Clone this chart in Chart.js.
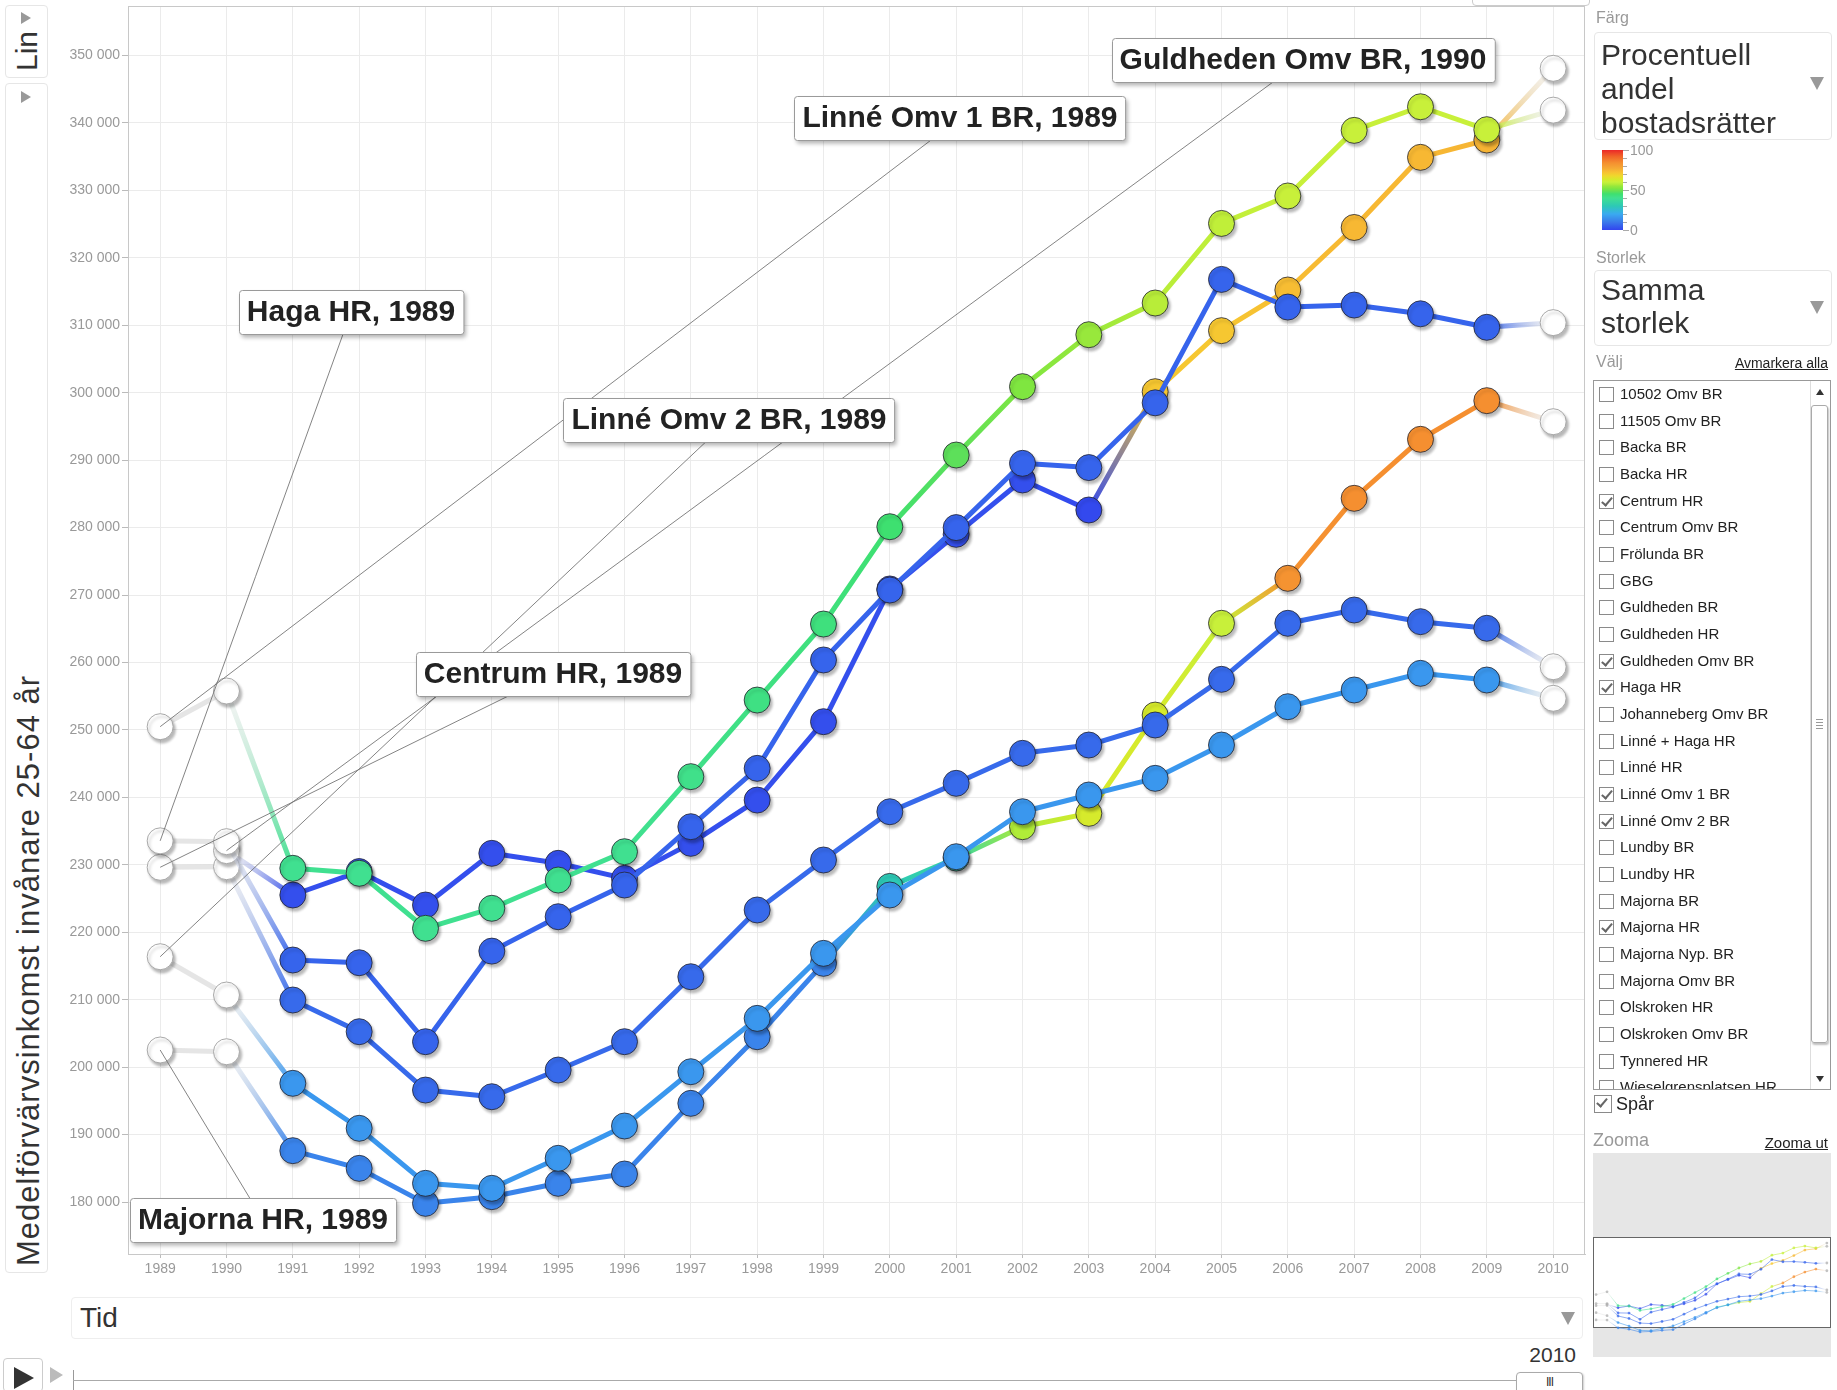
<!DOCTYPE html>
<html><head><meta charset="utf-8">
<script src="https://cdn.jsdelivr.net/npm/chart.js@4.4.1/dist/chart.umd.min.js"></script>
<style>
html,body{margin:0;padding:0;background:#fff;width:1837px;height:1390px;overflow:hidden;font-family:'Liberation Sans',Arial,sans-serif;color:#333;}
.abs{position:absolute;}
.box{position:absolute;border:1px solid #e6e6e6;border-radius:4px;background:#fff;box-sizing:border-box;}
.tri-r{position:absolute;width:0;height:0;border-top:6px solid transparent;border-bottom:6px solid transparent;border-left:10px solid #999;}
.tri-d{position:absolute;width:0;height:0;border-left:7px solid transparent;border-right:7px solid transparent;border-top:13px solid #999;}
.rot{position:absolute;transform-origin:0 0;transform:rotate(-90deg);white-space:nowrap;}
.grey{color:#999;font-size:16px;}
.big{font-size:30px;color:#333;line-height:34px;}
.lnk{font-size:14px;color:#222;text-decoration:underline;}
.cb{position:absolute;width:15px;height:15px;border:1px solid #8a8a8a;box-sizing:border-box;background:#fff;}
.cb.on::after{content:'';position:absolute;left:4px;top:0px;width:4px;height:9px;border-right:2px solid #666;border-bottom:2px solid #666;transform:rotate(40deg);}
.item{position:absolute;left:26px;font-size:15px;color:#222;white-space:nowrap;}
canvas{display:block;}
</style></head><body>

<!-- left controls -->
<div class="box" style="left:5px;top:5px;width:43px;height:73px;"></div>
<div class="tri-r" style="left:21px;top:12px;"></div>
<div class="rot" style="left:12px;top:71px;font-size:30px;line-height:30px;color:#333;">Lin</div>
<div class="box" style="left:5px;top:83px;width:43px;height:1190px;"></div>
<div class="tri-r" style="left:21px;top:91px;"></div>
<div class="rot" id="ytitle" style="left:13px;top:1266px;font-size:31px;line-height:31px;letter-spacing:1px;color:#333;">Medelförvärvsinkomst invånare 25-64 år</div>

<!-- top-right tiny controls -->
<div class="box" style="left:1472px;top:-12px;width:118px;height:18px;border-color:#ccc;"></div>

<!-- main chart -->
<div class="abs" id="mainwrap" style="left:0;top:0;"><canvas id="main" width="1590" height="1290"></canvas></div>

<!-- bottom controls -->
<div class="box" style="left:71px;top:1297px;width:1512px;height:42px;border-color:#eee;"></div>
<div class="abs" style="left:80px;top:1302px;font-size:28px;line-height:32px;color:#333;">Tid</div>
<div class="tri-d" style="left:1561px;top:1312px;"></div>
<div class="box" style="left:3px;top:1358px;width:40px;height:34px;border-color:#ccc;"></div>
<div class="abs" style="left:14px;top:1367px;width:0;height:0;border-top:11px solid transparent;border-bottom:11px solid transparent;border-left:20px solid #333;"></div>
<div class="abs" style="left:50px;top:1367px;width:0;height:0;border-top:8px solid transparent;border-bottom:8px solid transparent;border-left:13px solid #bbb;"></div>
<div class="abs" style="left:73px;top:1370px;width:1px;height:20px;background:#999;"></div>
<div class="abs" style="left:73px;top:1380px;width:1445px;height:1px;background:#aaa;"></div>
<div class="abs" style="left:1490px;top:1342px;width:86px;text-align:right;font-size:21px;line-height:26px;color:#333;">2010</div>
<div class="box" style="left:1516px;top:1372px;width:67px;height:24px;border-color:#aaa;box-shadow:1px 1px 2px rgba(0,0,0,0.2);"></div>
<div class="abs" style="left:1516px;top:1375px;width:67px;text-align:center;font-size:12px;line-height:14px;color:#333;letter-spacing:-1px;">III</div>

<!-- right panel -->
<div class="abs grey" style="left:1596px;top:9px;">Färg</div>
<div class="box" style="left:1594px;top:32px;width:238px;height:108px;"></div>
<div class="abs big" style="left:1601px;top:38px;">Procentuell<br>andel<br>bostadsrätter</div>
<div class="tri-d" style="left:1810px;top:77px;"></div>
<div class="abs" id="cbar" style="left:1602px;top:150px;width:21px;height:80px;"></div>
<div class="abs" id="cticks" style="left:1623px;top:150px;width:10px;height:81px;"></div>
<div class="abs" style="left:1630px;top:141px;font-size:14px;line-height:18px;color:#999;">100</div>
<div class="abs" style="left:1630px;top:181px;font-size:14px;line-height:18px;color:#999;">50</div>
<div class="abs" style="left:1630px;top:221px;font-size:14px;line-height:18px;color:#999;">0</div>
<div class="abs grey" style="left:1596px;top:249px;">Storlek</div>
<div class="box" style="left:1594px;top:270px;width:238px;height:76px;"></div>
<div class="abs big" style="left:1601px;top:273px;line-height:33px;">Samma<br>storlek</div>
<div class="tri-d" style="left:1810px;top:301px;"></div>
<div class="abs grey" style="left:1596px;top:353px;">Välj</div>
<div class="abs lnk" style="left:1700px;top:355px;width:128px;text-align:right;">Avmarkera alla</div>
<div class="abs" id="list" style="left:1593px;top:380px;width:238px;height:710px;border:1px solid #999;box-sizing:border-box;overflow:hidden;background:#fff;"></div>
<div class="cb on" style="left:1594px;top:1095px;width:18px;height:18px;"></div>
<div class="abs" style="left:1616px;top:1093px;font-size:18px;line-height:22px;color:#222;">Spår</div>
<div class="abs" style="left:1593px;top:1129px;font-size:18px;line-height:22px;color:#999;">Zooma</div>
<div class="abs lnk" style="left:1700px;top:1134px;width:128px;text-align:right;font-size:15px;">Zooma ut</div>
<div class="abs" style="left:1593px;top:1153px;width:238px;height:204px;background:#e6e6e6;"></div>
<div class="abs" style="left:1593px;top:1237px;width:238px;height:91px;background:#fff;border:1px solid #666;box-sizing:border-box;"></div>
<div class="abs" style="left:1593px;top:1153px;width:238px;height:204px;"><canvas id="mini" width="238" height="204"></canvas></div>

<script>
// ---------------- data ----------------
const YEARS = [1989,1990,1991,1992,1993,1994,1995,1996,1997,1998,1999,2000,2001,2002,2003,2004,2005,2006,2007,2008,2009,2010];
const Y_TICKS = [180000,190000,200000,210000,220000,230000,240000,250000,260000,270000,280000,290000,300000,310000,320000,330000,340000,350000];

// Medelförvärvsinkomst invånare 25-64 år
const LINNE_OMV1_BR   = [250480,255770,229480,228740,220580,223550,227740,231940,243070,254430,265700,280130,290760,300900,308600,313300,325100,329170,338900,342400,339000,341900];
const GULDHEDEN_OMV_BR= [null,232100,225520,229000,224040,231700,230220,227990,233180,239600,251220,270900,279000,287060,282610,300150,309200,315230,324500,334900,337470,348100];
const HAGA_HR         = [233550,233430,215880,215480,203770,217200,222300,227000,235650,244300,260370,270740,280000,289530,288900,298500,316800,312700,313000,311700,309700,310390];
const CENTRUM_HR      = [229630,229720,209950,205250,196600,195610,199570,203770,213400,223300,230710,237870,242080,246530,247760,250730,257500,265810,267780,266050,265070,259370];
const LINNE_OMV2_BR   = [216370,210690,197600,190930,182770,182030,186480,191270,199320,207230,216870,225520,231200,237870,240350,242820,247760,253440,255920,258390,257400,254690];
const MAJORNA_HR      = [202540,202280,187610,184990,179800,180790,182770,184150,194630,204510,215390,226800,231000,235650,237630,252200,265810,272480,284340,293090,298820,295700];

// Procentuell andel bostadsrätter (colour variable); null = no value (drawn white)
const LINNE_OMV1_BR_PCT    = [null,null,40,40,40,40,40,40,41,42,43,45,48,52,55,58,59,60,60,60,60,null];
const GULDHEDEN_OMV_BR_PCT = [null,null,2,2,2,2,2,2,2,2,2,2,2,2,1,71,71,73,74,74,75,null];
const HAGA_HR_PCT          = [null,null,6,6,6,6,6,6,6,6,6,6,6,6,6,6,6,6,6,6,6,null];
const CENTRUM_HR_PCT       = [null,null,7,7,7,7,7,7,7,7,7,7,7,7,7,7,7,7,7,7,7,null];
const LINNE_OMV2_BR_PCT    = [null,null,16,16,16,16,16,16,16,16,16,16,16,16,16,16,16,16,16,16,16,null];
const MAJORNA_HR_PCT       = [null,null,12,12,12,12,12,12,12,12,12,30,35,57,63,63,60,83,84,84,84,null];

const SERIES_NAMES = ['Linné Omv 1 BR','Haga HR','Guldheden Omv BR','Centrum HR','Linné Omv 2 BR','Majorna HR'];
const SERIES_VALUES = [LINNE_OMV1_BR, HAGA_HR, GULDHEDEN_OMV_BR, CENTRUM_HR, LINNE_OMV2_BR, MAJORNA_HR];
const SERIES_PCT = [LINNE_OMV1_BR_PCT, HAGA_HR_PCT, GULDHEDEN_OMV_BR_PCT, CENTRUM_HR_PCT, LINNE_OMV2_BR_PCT, MAJORNA_HR_PCT];

const ALL_ENTITIES = ['10502 Omv BR','11505 Omv BR','Backa BR','Backa HR','Centrum HR','Centrum Omv BR','Frölunda BR','GBG','Guldheden BR','Guldheden HR','Guldheden Omv BR','Haga HR','Johanneberg Omv BR','Linné + Haga HR','Linné HR','Linné Omv 1 BR','Linné Omv 2 BR','Lundby BR','Lundby HR','Majorna BR','Majorna HR','Majorna Nyp. BR','Majorna Omv BR','Olskroken HR','Olskroken Omv BR','Tynnered HR','Wieselgrensplatsen HR'];

// labels shown on the chart: series + year
const LABEL_SERIES = ['Guldheden Omv BR','Linné Omv 1 BR','Haga HR','Linné Omv 2 BR','Centrum HR','Majorna HR'];
const LABEL_YEARS  = [1990,1989,1989,1989,1989,1989];

// ---------------- layout / style ----------------
const LABEL_CENTERS = [[1303,60],[960,118],[351,312],[729,420],[553,674],[263,1220]]; // page coords
const PLOT = {left:128, top:6, right:1585, bottom:1254};                             // page coords of plot area
const COLOR_STOPS = [
 [0,[51,68,238]],[5,[53,95,236]],[10,[58,122,234]],[20,[58,170,240]],[30,[45,201,181]],
 [40,[64,224,144]],[45,[62,224,112]],[48,[93,224,90]],[52,[127,230,64]],[55,[152,232,60]],
 [57,[176,236,56]],[60,[200,240,58]],[63,[214,234,44]],[68,[240,215,45]],[72,[248,194,50]],
 [77,[245,170,53]],[84,[245,143,48]],[92,[240,100,40]],[100,[235,40,40]]];
const FONT = "'Liberation Sans', Arial, sans-serif";
let OFF = {x:0,y:0};

function colorFor(p){
  for(let i=1;i<COLOR_STOPS.length;i++){
    const [p1,c1]=COLOR_STOPS[i], [p0,c0]=COLOR_STOPS[i-1];
    if(p<=p1){const t=(p-p0)/(p1-p0);return c0.map((v,k)=>Math.round(v+(c1[k]-v)*t));}
  }
  return COLOR_STOPS[COLOR_STOPS.length-1][1];
}
const rgb=(c,a)=>a===undefined?`rgb(${c[0]},${c[1]},${c[2]})`:`rgba(${c[0]},${c[1]},${c[2]},${a})`;

// colour bar legend
document.getElementById('cbar').style.background='linear-gradient(to top,'+COLOR_STOPS.map(s=>rgb(s[1])+' '+s[0]+'%').join(',')+')';
(function(){const t=document.getElementById('cticks');for(let i=0;i<=10;i++){const d=document.createElement('div');d.className='abs';d.style.cssText=`left:0;top:${i*8}px;width:${i%5===0?6:4}px;height:1px;background:#aaa;`;t.appendChild(d);}})();

// entity list
(function(){
  const L=document.getElementById('list');
  ALL_ENTITIES.forEach((n,i)=>{
    const y=i*26.66+1;
    const cb=document.createElement('div');cb.className='cb'+(SERIES_NAMES.includes(n)?' on':'');cb.style.left='5px';cb.style.top=(y+5)+'px';L.appendChild(cb);
    const t=document.createElement('div');t.className='item';t.style.top=(y+2)+'px';t.style.lineHeight='20px';t.textContent=n;L.appendChild(t);
  });
  const sb=document.createElement('div');sb.className='abs';sb.style.cssText='left:216px;top:0;width:20px;height:708px;background:#fff;border-left:1px solid #ddd;';L.appendChild(sb);
  const up=document.createElement('div');up.className='abs';up.style.cssText='left:222px;top:8px;width:0;height:0;border-left:4px solid transparent;border-right:4px solid transparent;border-bottom:6px solid #333;';L.appendChild(up);
  const th=document.createElement('div');th.className='abs';th.style.cssText='left:217px;top:24px;width:17px;height:638px;border:1px solid #aaa;border-radius:3px;box-sizing:border-box;box-shadow:1px 2px 2px rgba(0,0,0,0.25);';L.appendChild(th);
  for(let k=0;k<4;k++){const g=document.createElement('div');g.className='abs';g.style.cssText=`left:222px;top:${338+k*3}px;width:7px;height:1px;background:#999;`;L.appendChild(g);}
  const dn=document.createElement('div');dn.className='abs';dn.style.cssText='left:222px;top:695px;width:0;height:0;border-left:4px solid transparent;border-right:4px solid transparent;border-top:6px solid #333;';L.appendChild(dn);
})();

// ---------------- chart ----------------
function segColor(c, pct, alphaScale){
  const a=pct[c.p0DataIndex], b=pct[c.p1DataIndex];
  const k=alphaScale||1;
  if(a==null&&b==null) return `rgba(212,212,212,${0.6*k})`;
  const g=c.chart.ctx.createLinearGradient(c.p0.x,c.p0.y,c.p1.x,c.p1.y);
  g.addColorStop(0, a==null?`rgba(225,225,225,${0.35*k})`:rgb(colorFor(a),k));
  g.addColorStop(1, b==null?`rgba(225,225,225,${0.35*k})`:rgb(colorFor(b),k));
  return g;
}
function buildDatasets(mini){
  return SERIES_NAMES.map((name,si)=>{
    const vals=SERIES_VALUES[si], pct=SERIES_PCT[si];
    return {
      label:name,
      data:YEARS.map((yr,i)=>({x:yr,y:vals[i]})),
      order:si,
      borderWidth: mini?1:5,
      borderCapStyle:'round',
      borderJoinStyle:'round',
      segment:{borderColor:c=>segColor(c,pct,mini?0.55:1)},
      pointRadius: mini?1.4:13,
      pointHoverRadius: mini?1.4:13,
      pointBorderWidth: mini?0:1,
      pointBackgroundColor: pct.map(p=>p==null?(mini?'rgba(170,170,170,0.7)':'#ffffff'):rgb(colorFor(p),mini?0.7:1)),
      pointBorderColor: pct.map(p=>p==null?'#a8a8a8':'rgba(35,35,45,0.8)'),
      spanGaps:false,
      tension:0
    };
  });
}
const fmt=v=>String(v).replace(/\B(?=(\d{3})+(?!\d))/g,' ');

const pointShadow={
  id:'pointShadow',
  beforeDatasetDraw(chart,args){
    const ds=args.meta.dataset;
    if(ds&&!ds.__wrapped){
      const orig=ds.draw;
      ds.draw=function(ctx,...rest){ctx.save();ctx.shadowColor='rgba(0,0,0,0)';ctx.shadowBlur=0;ctx.shadowOffsetX=0;ctx.shadowOffsetY=0;orig.call(this,ctx,...rest);ctx.restore();};
      ds.__wrapped=true;
    }
    const ctx=chart.ctx;ctx.save();
    ctx.shadowColor='rgba(0,0,0,0.28)';ctx.shadowBlur=3;ctx.shadowOffsetX=2;ctx.shadowOffsetY=3;
  },
  afterDatasetDraw(chart){chart.ctx.restore();}
};
const frame={
  id:'frame',
  beforeDatasetsDraw(chart){
    const a=chart.chartArea,ctx=chart.ctx;ctx.save();ctx.strokeStyle='#c8c8c8';ctx.lineWidth=1;
    ctx.strokeRect(Math.round(a.left)+0.5,Math.round(a.top)+0.5,Math.round(a.right-a.left)-1,Math.round(a.bottom-a.top));ctx.restore();
  }
};
const labels={
  id:'labels',
  afterDatasetsDraw(chart){
    const ctx=chart.ctx, xs=chart.scales.x, ys=chart.scales.y;
    ctx.save();
    LABEL_SERIES.forEach((name,li)=>{
      const si=SERIES_NAMES.indexOf(name), yi=YEARS.indexOf(LABEL_YEARS[li]);
      const px=xs.getPixelForValue(YEARS[yi]), py=ys.getPixelForValue(SERIES_VALUES[si][yi]);
      const cx=LABEL_CENTERS[li][0]-OFF.x, cy=LABEL_CENTERS[li][1]-OFF.y;
      ctx.strokeStyle='rgba(110,110,110,0.85)';ctx.lineWidth=1;
      ctx.beginPath();ctx.moveTo(cx,cy);ctx.lineTo(px,py);ctx.stroke();
    });
    ctx.font='bold 30px '+FONT;
    LABEL_SERIES.forEach((name,li)=>{
      const cx=LABEL_CENTERS[li][0]-OFF.x, cy=LABEL_CENTERS[li][1]-OFF.y;
      const txt=name+', '+LABEL_YEARS[li];
      const w=ctx.measureText(txt).width+16, h=44;
      const x=Math.round(cx-w/2)+0.5, y=Math.round(cy-h/2)+0.5;
      ctx.save();
      ctx.shadowColor='rgba(0,0,0,0.3)';ctx.shadowBlur=4;ctx.shadowOffsetX=2;ctx.shadowOffsetY=3;
      ctx.fillStyle='#fff';ctx.beginPath();ctx.roundRect(x,y,w,h,3);ctx.fill();
      ctx.restore();
      ctx.strokeStyle='#9a9a9a';ctx.lineWidth=1;ctx.beginPath();ctx.roundRect(x,y,w,h,3);ctx.stroke();
      ctx.fillStyle='#222';ctx.textAlign='center';ctx.textBaseline='middle';
      ctx.fillText(txt,cx,cy+1);
    });
    ctx.restore();
  }
};

function mainConfig(){
  return {
    type:'line',
    data:{datasets:buildDatasets(false)},
    options:{
      responsive:false,animation:false,maintainAspectRatio:false,
      layout:{padding:0},
      plugins:{legend:{display:false},tooltip:{enabled:false}},
      events:[],
      scales:{
        x:{type:'linear',min:1988.515,max:2010.48,
           afterBuildTicks:s=>{s.ticks=YEARS.map(v=>({value:v}));},
           afterFit:s=>{s.height=36;},
           ticks:{callback:v=>String(v),color:'#999',font:{size:14,family:FONT},maxRotation:0,autoSkip:false,padding:3},
           grid:{color:'#ebebeb',tickColor:'#bbb',tickLength:4},
           border:{color:'#c8c8c8'}},
        y:{type:'linear',min:172290,max:357340,
           afterBuildTicks:s=>{s.ticks=Y_TICKS.map(v=>({value:v}));},
           afterFit:s=>{s.width=128;},
           ticks:{callback:v=>fmt(v),color:'#999',font:{size:14,family:FONT},padding:2},
           grid:{color:'#ebebeb',tickColor:'#bbb',tickLength:6},
           border:{color:'#c8c8c8'}}
      }
    },
    plugins:[frame,pointShadow,labels]
  };
}

// first pass: measure how much room the axes take, then size/offset the canvas so the plot area lands on PLOT
const cv=document.getElementById('main');
let chart=new Chart(cv,mainConfig());
const a=chart.chartArea, W=chart.width, H=chart.height;
const padL=a.left, padT=a.top, padR=W-a.right, padB=H-a.bottom;
chart.destroy();
const nW=Math.round((PLOT.right-PLOT.left)+padL+padR), nH=Math.round((PLOT.bottom-PLOT.top)+padT+padB);
OFF={x:Math.round(PLOT.left-padL), y:Math.round(PLOT.top-padT)};
const wrap=document.getElementById('mainwrap');
wrap.style.left=OFF.x+'px'; wrap.style.top=OFF.y+'px';
cv.width=nW; cv.height=nH; cv.style.width=nW+'px'; cv.style.height=nH+'px';
chart=new Chart(cv,mainConfig());

new Chart(document.getElementById('mini'),{
  type:'line',
  data:{datasets:buildDatasets(true)},
  options:{
    responsive:false,animation:false,maintainAspectRatio:false,events:[],
    layout:{padding:0},
    plugins:{legend:{display:false},tooltip:{enabled:false}},
    scales:{
      x:{type:'linear',min:1988.85,max:2010.25,display:false},
      y:{type:'linear',min:135000,max:516000,display:false}
    }
  }
});
</script>
</body></html>
